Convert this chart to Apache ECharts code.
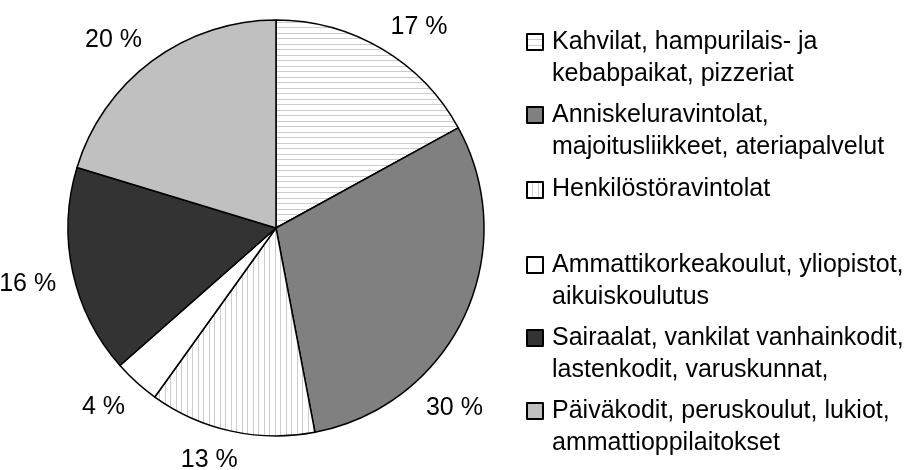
<!DOCTYPE html>
<html>
<head>
<meta charset="utf-8">
<script src="https://cdn.jsdelivr.net/npm/echarts@6/dist/echarts.min.js"></script>
<style>
  html, body { margin: 0; padding: 0; background: #fff; }
  #chart { width: 904px; height: 470px; }
</style>
</head>
<body>
<div id="chart"></div>
<script>
// data
var categories = [
    'Kahvilat, hampurilais- ja kebabpaikat, pizzeriat',
    'Anniskeluravintolat, majoitusliikkeet, ateriapalvelut',
    'Henkilöstöravintolat',
    'Ammattikorkeakoulut, yliopistot, aikuiskoulutus',
    'Sairaalat, vankilat vanhainkodit, lastenkodit, varuskunnat,',
    'Päiväkodit, peruskoulut, lukiot, ammattioppilaitokset'
];
var legendLines = [
    'Kahvilat, hampurilais- ja\nkebabpaikat, pizzeriat',
    'Anniskeluravintolat,\nmajoitusliikkeet, ateriapalvelut',
    'Henkilöstöravintolat\n ',
    'Ammattikorkeakoulut, yliopistot,\naikuiskoulutus',
    'Sairaalat, vankilat vanhainkodit,\nlastenkodit, varuskunnat,',
    'Päiväkodit, peruskoulut, lukiot,\nammattioppilaitokset'
];
var shares = [17.0, 30.0, 12.9, 3.6, 16.2, 20.3];

(function () {
    var chart = echarts.init(document.getElementById('chart'));

    // hatch fills
    function hatch(vertical) {
        var c = document.createElement('canvas');
        c.width = 11; c.height = 11;
        var ctx = c.getContext('2d');
        ctx.fillStyle = '#ffffff';
        ctx.fillRect(0, 0, 11, 11);
        ctx.fillStyle = '#cccccc';
        if (vertical) { ctx.fillRect(0, 0, 1, 11); ctx.fillRect(5, 0, 1, 11); }
        else { ctx.fillRect(0, 0, 11, 1); ctx.fillRect(0, 5, 11, 1); }
        return { image: c, repeat: 'repeat' };
    }
    var fills = [hatch(false), '#808080', hatch(true), '#ffffff', '#333333', '#c0c0c0'];

    var cx = 276, cy = 228, r = 208, labelR = 225;
    var total = shares.reduce(function (a, b) { return a + b; }, 0);
    var labelTurn = [0, 23, 0, 0, 0, 0]; // 30 % label was moved in the original

    function clamp(v) { return Math.max(-1, Math.min(1, v)); }

    var pieData = categories.map(function (name, i) {
        return { name: name, value: shares[i], itemStyle: { color: fills[i] } };
    });

    var legendData = categories.map(function (name, i) {
        return i === 2 ? { name: name, textStyle: { lineHeight: 34 } } : { name: name };
    });

    var option = {
        animation: false,
        backgroundColor: '#ffffff',
        legend: {
            orient: 'vertical',
            left: 526,
            top: 26,
            padding: 0,
            itemGap: 9,
            itemWidth: 16,
            itemHeight: 48,
            icon: 'path://M0,0L16,0L16,16L0,16Z M0,48',
            selectedMode: false,
            data: legendData,
            formatter: function (name) {
                return legendLines[categories.indexOf(name)];
            },
            textStyle: {
                fontFamily: 'Liberation Sans',
                fontSize: 25,
                lineHeight: 32,
                color: '#000',
                padding: [0, 0, 0, 4]
            }
        },
        series: [
            {
                type: 'pie',
                center: [cx, cy],
                radius: r,
                startAngle: 90,
                clockwise: true,
                avoidLabelOverlap: false,
                itemStyle: {
                    borderColor: '#000',
                    borderWidth: 1.5
                },
                label: {
                    show: true,
                    position: 'outside',
                    fontFamily: 'Liberation Sans',
                    fontSize: 25,
                    color: '#000',
                    formatter: function (p) {
                        return Math.round(p.value) + ' %';
                    }
                },
                labelLine: { show: false },
                labelLayout: function (params) {
                    var i = params.dataIndex;
                    var before = 0;
                    for (var k = 0; k < i; k++) before += shares[k];
                    var mid = (before + shares[i] / 2) / total * 360 + labelTurn[i];
                    var a = mid * Math.PI / 180;
                    var sx = Math.sin(a), sy = -Math.cos(a);
                    var px = cx + labelR * sx, py = cy + labelR * sy;
                    var w = params.labelRect.width, h = params.labelRect.height;
                    var fx = 0.5 - 0.5 * clamp(sx * 3);
                    var fy = 0.5 - 0.5 * clamp(sy * 3);
                    return {
                        x: px - fx * w,
                        y: py - fy * (h - 5),
                        align: 'left',
                        verticalAlign: 'top'
                    };
                },
                emphasis: { disabled: true },
                data: pieData
            }
        ]
    };
    chart.setOption(option);
})();
</script>
</body>
</html>
